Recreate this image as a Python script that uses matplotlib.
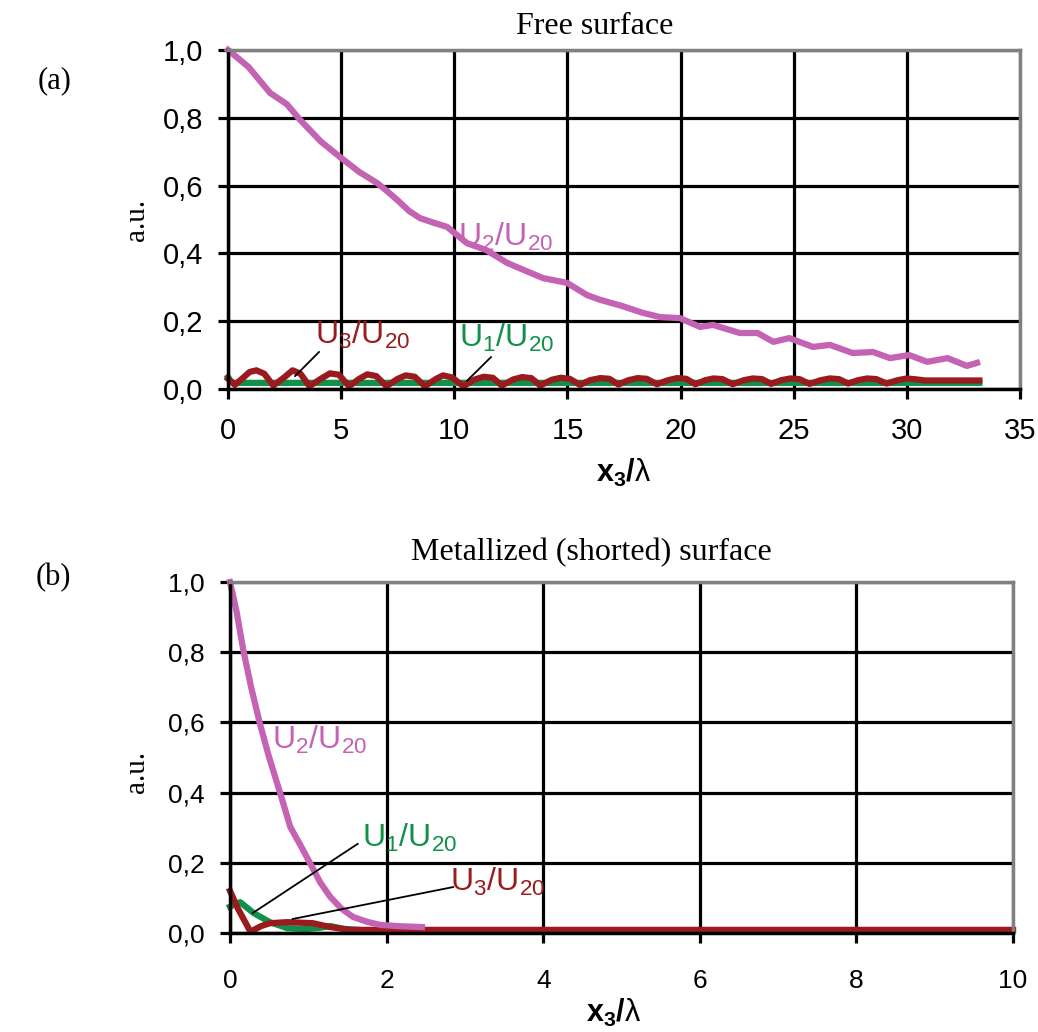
import numpy as np
import matplotlib.pyplot as plt
from matplotlib.ticker import FuncFormatter

plt.rcParams['font.family'] = ['Liberation Sans', 'DejaVu Sans']
plt.rcParams['mathtext.fontset'] = 'custom'
plt.rcParams['mathtext.rm'] = 'Liberation Sans'
plt.rcParams['mathtext.it'] = 'Liberation Sans:italic'
plt.rcParams['mathtext.bf'] = 'Liberation Sans:bold'

pink = '#c462b3'
red = '#991b1e'
green = '#119049'

# (a) free surface
xa_u2 = [0, 0.9, 1.86, 2.6, 3.18, 4.1, 4.95, 5.8, 6.58, 7.0, 7.47, 8.0, 8.48, 9.1, 9.68,
         10.56, 11.4, 12.33, 13.1, 13.92, 14.98, 15.86, 16.44, 17.4, 18.3, 19.09, 19.97,
         20.86, 21.43, 22.62, 23.4, 24.1, 24.8, 25.85, 26.6, 27.6, 28.5, 29.25, 30.1,
         30.9, 31.8, 32.65, 33.1]
ya_u2 = [1.0, 0.95, 0.873, 0.84, 0.794, 0.73, 0.684, 0.64, 0.608, 0.585, 0.558, 0.525, 0.504,
         0.49, 0.478, 0.43, 0.41, 0.372, 0.35, 0.327, 0.313, 0.277, 0.263, 0.245, 0.225,
         0.212, 0.209, 0.183, 0.189, 0.165, 0.165, 0.139, 0.150, 0.124, 0.13, 0.106, 0.109,
         0.091, 0.100, 0.08, 0.091, 0.068, 0.077]

xa_u1 = [0, 0.15, 0.3, 33.2]
ya_u1 = [0.035, 0.02, 0.018, 0.018]

xa_u3 = [0, 0.3, 0.7, 0.95, 1.25, 1.6, 2.0, 2.5, 2.85, 3.2, 3.6, 4.1, 4.5, 4.9,
         5.35, 5.8, 6.15, 6.55, 7.0, 7.5, 7.85, 8.25, 8.7, 9.2, 9.5, 9.9, 10.4,
         10.9, 11.3, 11.7, 12.1, 12.6, 13.0, 13.4, 13.8, 14.3, 14.7, 15.1, 15.55,
         16.0, 16.45, 16.85, 17.25, 17.7, 18.1, 18.5, 18.95, 19.45, 19.85, 20.25,
         20.65, 21.1, 21.45, 21.85, 22.3, 22.8, 23.2, 23.6, 24.0, 24.45, 24.85,
         25.25, 25.7, 26.2, 26.6, 27.0, 27.4, 27.85, 28.25, 28.65, 29.1, 29.6,
         30.0, 30.45, 30.8, 33.2]
ya_u3 = [0.03, 0.012, 0.035, 0.05, 0.055, 0.045, 0.01, 0.035, 0.055, 0.045, 0.008, 0.03,
         0.046, 0.042, 0.008, 0.03, 0.043, 0.038, 0.008, 0.03, 0.04, 0.036, 0.008, 0.03,
         0.04, 0.034, 0.008, 0.028, 0.036, 0.033, 0.01, 0.028, 0.035, 0.032, 0.01, 0.027,
         0.033, 0.03, 0.012, 0.026, 0.032, 0.03, 0.013, 0.026, 0.032, 0.03, 0.014,
         0.026, 0.032, 0.03, 0.014, 0.026, 0.031, 0.029, 0.014, 0.026, 0.031, 0.029,
         0.015, 0.026, 0.031, 0.029, 0.015, 0.026, 0.031, 0.029, 0.016, 0.026, 0.031,
         0.029, 0.016, 0.026, 0.031, 0.028, 0.025, 0.025]

# (b) metallized (shorted) surface
xb_u2 = [0, 0.08, 0.17, 0.27, 0.38, 0.5, 0.64, 0.77, 0.9, 1.02, 1.15, 1.28, 1.42, 1.57,
         1.75, 1.92, 2.2, 2.45]
yb_u2 = [1.0, 0.92, 0.806, 0.70, 0.598, 0.50, 0.399, 0.302, 0.25, 0.2, 0.145, 0.103,
         0.07, 0.046, 0.032, 0.023, 0.019, 0.017]

xb_u1 = [0, 0.13, 0.3, 0.51, 0.73, 0.95, 1.15, 1.28, 1.45, 1.7, 10]
yb_u1 = [0.075, 0.088, 0.057, 0.031, 0.014, 0.011, 0.015, 0.02, 0.012, 0.008, 0.008]

xb_u3 = [0, 0.1, 0.26, 0.4, 0.51, 0.73, 1.06, 1.28, 1.53, 1.8, 10]
yb_u3 = [0.12, 0.07, 0.004, 0.02, 0.028, 0.031, 0.028, 0.017, 0.009, 0.009, 0.009]


def style(ax, xmax, xstep, fs, xpad):
    ax.set_xlim(0, xmax)
    ax.set_ylim(0, 1.0)
    ax.set_xticks(np.arange(0, xmax + 0.01, xstep))
    ax.set_yticks(np.arange(0, 1.01, 0.2))
    ax.yaxis.set_major_formatter(FuncFormatter(lambda v, p: f'{v:.1f}'.replace('.', ',')))
    ax.grid(True, color='black', linewidth=2.3)
    ax.set_axisbelow(True)
    for s in ['left', 'bottom']:
        ax.spines[s].set_linewidth(2.5)
        ax.spines[s].set_color('black')
    for s in ['top', 'right']:
        ax.spines[s].set_linewidth(2.5)
        ax.spines[s].set_color('#808080')
    ax.tick_params(direction='out', length=7, width=2.3, labelsize=fs, color='black')
    ax.tick_params(axis='x', pad=xpad)
    ax.tick_params(axis='y', pad=11)
    ax.set_ylabel('a.u.', family='Liberation Serif', fontsize=21)
    ax.set_xlabel(r'$\mathbf{x_3/}$λ', fontsize=22)


fig = plt.figure(figsize=(10.38, 10.32), dpi=100)
ax1 = fig.add_axes([0.2197, 0.6231, 0.763, 0.3285])
ax2 = fig.add_axes([0.2216, 0.0959, 0.7543, 0.3401])

style(ax1, 35, 5, 21, 13)
ax1.plot(xa_u1, ya_u1, color=green, lw=4.5, clip_on=False)
ax1.plot(xa_u3, ya_u3, color=red, lw=4.5, clip_on=False)
ax1.plot(xa_u2, ya_u2, color=pink, lw=4.5, clip_on=False)
ax1.text(0.463, 1.068, 'Free surface', family='Liberation Serif', fontsize=23,
         ha='center', va='center', transform=ax1.transAxes)
ax1.yaxis.set_label_coords(-0.098, 0.5)
ax1.xaxis.set_label_coords(0.5, -0.2)
ax1.text(10.16, 0.448, r'$\mathregular{U_2/U_{20}}$', color=pink, fontsize=23, va='center')
ax1.text(3.85, 0.159, r'$\mathregular{U_3/U_{20}}$', color=red, fontsize=23, va='center')
ax1.text(10.2, 0.150, r'$\mathregular{U_1/U_{20}}$', color=green, fontsize=23, va='center')
ax1.plot([4.02, 2.96], [0.109, 0.038], color='black', lw=1.3)
ax1.plot([11.62, 10.56], [0.094, 0.024], color='black', lw=1.3)

style(ax2, 10, 2, 19, 19)
ax2.plot(xb_u1, yb_u1, color=green, lw=4.5, clip_on=False)
ax2.plot(xb_u3, yb_u3, color=red, lw=4.5, clip_on=False)
ax2.plot(xb_u2, yb_u2, color=pink, lw=4.5, clip_on=False)
ax2.text(0.461, 1.083, 'Metallized (shorted) surface', family='Liberation Serif', fontsize=23,
         ha='center', va='center', transform=ax2.transAxes)
ax2.yaxis.set_label_coords(-0.102, 0.46)
ax2.xaxis.set_label_coords(0.49, -0.183)
ax2.text(0.54, 0.55, r'$\mathregular{U_2/U_{20}}$', color=pink, fontsize=23, va='center')
ax2.text(1.69, 0.27, r'$\mathregular{U_1/U_{20}}$', color=green, fontsize=23, va='center')
ax2.text(2.81, 0.145, r'$\mathregular{U_3/U_{20}}$', color=red, fontsize=23, va='center')
ax2.plot([1.63, 0.29], [0.254, 0.057], color='black', lw=1.3)
ax2.plot([2.85, 0.80], [0.131, 0.04], color='black', lw=1.3)

fig.text(0.053, 0.922, '(a)', family='Liberation Serif', fontsize=22, ha='center', va='center')
fig.text(0.051, 0.44, '(b)', family='Liberation Serif', fontsize=22, ha='center', va='center')

fig.savefig('out.png', dpi=100)
